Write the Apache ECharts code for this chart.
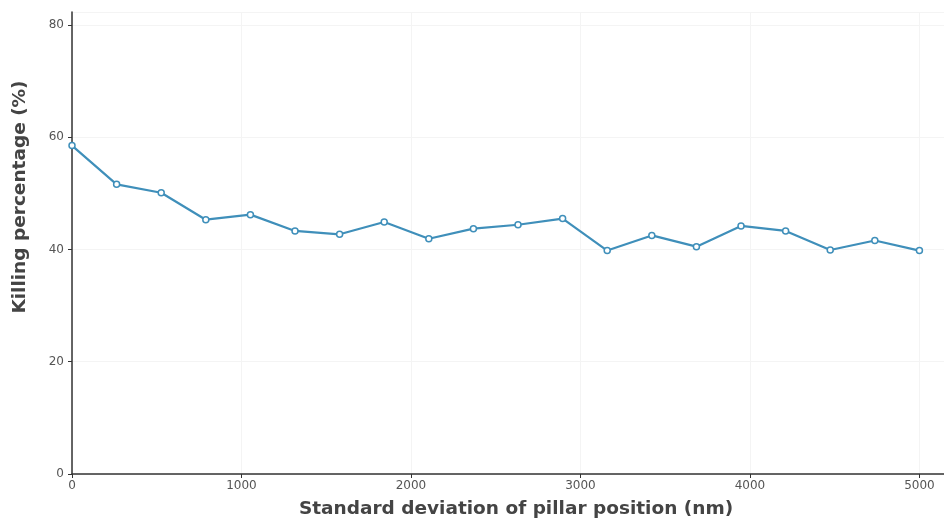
<!DOCTYPE html>
<html><head><meta charset="utf-8">
<script src="https://cdn.jsdelivr.net/npm/echarts@6/dist/echarts.min.js"></script>
<style>html,body{margin:0;padding:0;background:#fff}#c{width:944px;height:519px}</style>
</head><body><div id="c"></div>
<script>
const xValues = [0,263.16,526.32,789.47,1052.63,1315.79,1578.95,1842.11,2105.26,2368.42,2631.58,2894.74,3157.89,3421.05,3684.21,3947.37,4210.53,4473.68,4736.84,5000];
const killing = [58.5,51.6,50.1,45.3,46.2,43.3,42.7,44.9,41.9,43.7,44.4,45.5,39.8,42.5,40.5,44.2,43.3,39.9,41.6,39.8];
const xTitle = 'Standard deviation of pillar position (nm)';
const yTitle = 'Killing percentage (%)';
const chart = echarts.init(document.getElementById('c'));
const font = 'DejaVu Sans';
chart.setOption({
  animation:false,
  grid:{left:72,right:0,top:12,bottom:45,containLabel:false,outerBoundsMode:'none'},
  xAxis:{type:'value',min:0,max:5145,interval:1000,
    name:xTitle,nameLocation:'middle',nameGap:26,
    nameTextStyle:{fontFamily:font,fontSize:18.5,fontWeight:'bold',color:'#444',padding:[0,0,0,16]},
    axisLine:{lineStyle:{color:'#333',width:1.5}},
    axisTick:{show:true,length:4,lineStyle:{color:'#333'}},
    axisLabel:{fontFamily:font,fontSize:12,color:'#555',showMaxLabel:false,margin:6,formatter:v=>String(v)},
    splitLine:{show:true,lineStyle:{color:'#f4f4f4',width:1}}},
  yAxis:{type:'value',min:0,max:82.3,interval:20,
    name:yTitle,nameLocation:'middle',nameGap:42,
    nameTextStyle:{fontFamily:font,fontSize:18.5,fontWeight:'bold',color:'#444',padding:[0,0,0,92]},
    axisLine:{show:true,lineStyle:{color:'#333',width:1.5}},
    axisTick:{show:true,length:4,lineStyle:{color:'#333'}},
    axisLabel:{fontFamily:font,fontSize:12,color:'#555',showMaxLabel:false,margin:8},
    splitLine:{show:true,lineStyle:{color:'#f4f4f4',width:1}}},
  series:[{type:'line',data:xValues.map((x,i)=>[x,killing[i]]),
    symbol:'circle',symbolSize:6,showAllSymbol:true,
    lineStyle:{color:'#3f8fba',width:2.2},
    itemStyle:{color:'#fff',borderColor:'#3f8fba',borderWidth:1.5}}]
});
</script></body></html>
